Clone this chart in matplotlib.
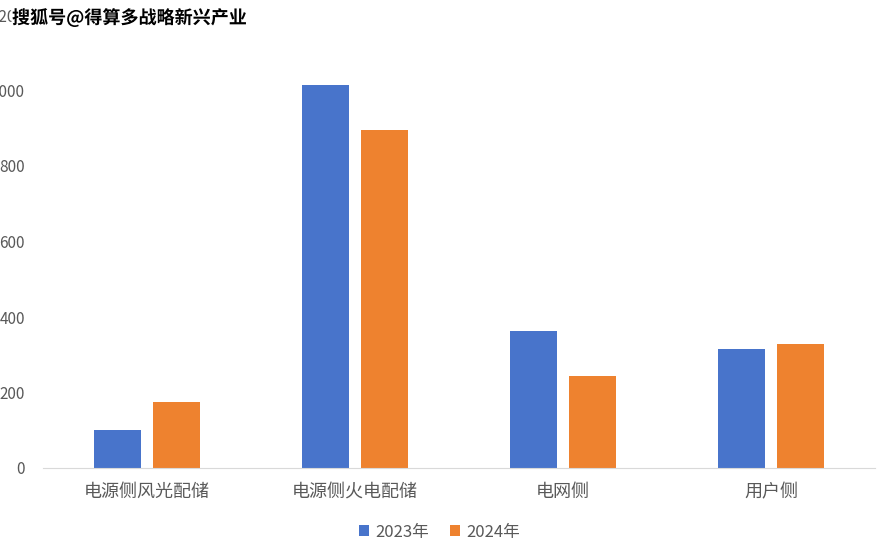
import matplotlib
matplotlib.use("Agg")
import matplotlib.pyplot as plt
import matplotlib.patheffects as pe
import numpy as np

plt.rcParams['font.family'] = ['Noto Sans CJK SC', 'DejaVu Sans']

categories = ["电源侧风光配储", "电源侧火电配储", "电网侧", "用户侧"]
v2023 = [101, 1015, 363, 315]
v2024 = [175, 895, 244, 328]
yticks = [0, 200, 400, 600, 800, 1000, 1200]

fig = plt.figure(figsize=(8.79, 5.52), dpi=100)
ax = fig.add_axes([43/879, 84/552, 832/879, 453/552])
x = np.arange(len(categories))
w = 0.226
ax.bar(x - 0.142, v2023, w, color="#4874CB", label="2023年")
ax.bar(x + 0.142, v2024, w, color="#EE822F", label="2024年")
ax.set_xlim(-0.5, 3.5)
ax.set_ylim(0, 1200)
ax.set_yticks(yticks)
ax.set_xticks(x)
ax.set_xticklabels(categories, fontsize=13, color="#595959")
ax.tick_params(axis='y', length=0, labelsize=11, labelcolor="#595959", pad=13)
ax.tick_params(axis='x', length=0, pad=11)
for s in ["top", "right", "left"]:
    ax.spines[s].set_visible(False)
ax.spines["bottom"].set_color("#D9D9D9")
fig.legend(loc="center", bbox_to_anchor=(0.5, 1-532/552), ncol=2, frameon=False,
           fontsize=12, labelcolor="#595959", handlelength=0.6, handleheight=0.6,
           columnspacing=1.2, handletextpad=0.4)
fig.text(12/879, 1-18/552, "搜狐号@得算多战略新兴产业", fontsize=13, fontweight="bold",
         color="black", va="center",
         path_effects=[pe.withStroke(linewidth=3, foreground="white")])
fig.savefig("out.png", dpi=100)
